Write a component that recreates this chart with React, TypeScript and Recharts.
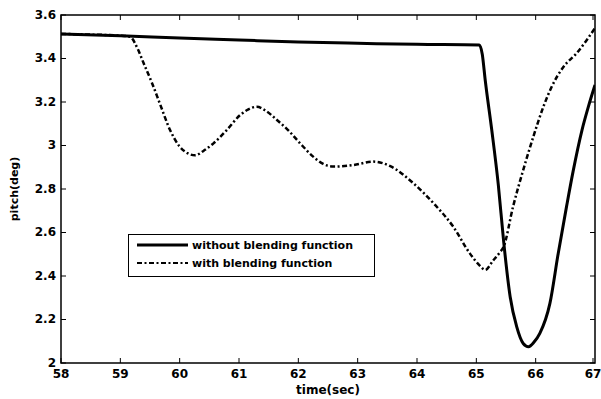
import React from 'react';
import { LineChart, Line, XAxis, YAxis, ReferenceArea, Legend } from 'recharts';

const solidTimes = [58, 59, 60, 61, 62, 63, 64, 65.05, 65.1, 65.15, 65.26, 65.37, 65.46, 65.57, 65.68, 65.79, 65.88, 65.97, 66.07, 66.24, 66.38, 66.52, 66.63, 66.78, 66.89, 67];
const solidValues = [3.513, 3.505, 3.494, 3.485, 3.476, 3.47, 3.465, 3.462, 3.42, 3.3, 3.071, 2.82, 2.56, 2.305, 2.167, 2.09, 2.075, 2.095, 2.136, 2.274, 2.504, 2.719, 2.88, 3.07, 3.18, 3.278];

const blendTimes = [58, 58.5, 59, 59.16, 59.3, 59.39, 59.53, 59.67, 59.84, 60.0, 60.13, 60.26, 60.4, 60.57, 60.79, 61.02, 61.15, 61.3, 61.45, 61.64, 61.83, 62.03, 62.25, 62.42, 62.59, 62.93, 63.26, 63.55, 63.94, 64.28, 64.61, 64.89, 65.05, 65.15, 65.28, 65.4, 65.46, 65.62, 65.79, 65.96, 66.13, 66.27, 66.47, 66.69, 67];
const blendValues = [3.513, 3.51, 3.505, 3.5, 3.44, 3.38, 3.29, 3.19, 3.07, 2.995, 2.965, 2.955, 2.975, 3.01, 3.07, 3.14, 3.165, 3.178, 3.16, 3.117, 3.07, 3.01, 2.949, 2.915, 2.903, 2.91, 2.926, 2.905, 2.826, 2.734, 2.627, 2.504, 2.45, 2.428, 2.47, 2.51, 2.535, 2.72, 2.887, 3.04, 3.178, 3.27, 3.362, 3.424, 3.54];

const xTicks = [58, 59, 60, 61, 62, 63, 64, 65, 66, 67];
const yTicks = [2, 2.2, 2.4, 2.6, 2.8, 3, 3.2, 3.4, 3.6];
const seriesNames = ['without blending function', 'with blending function'];
const xLabel = 'time(sec)';
const yLabel = 'pitch(deg)';

const solidData = solidTimes.map((t, i) => ({ t, v: solidValues[i] }));
const blendData = blendTimes.map((t, i) => ({ t, v: blendValues[i] }));

const FONT = 'DejaVu Sans, sans-serif';
const PLOT_W = 534;
const PLOT_H = 348;
const DASH = '5 2.5 2 2.5';

const XTick = (props: any) => {
  const { x, y, payload } = props;
  return (
    <g>
      <line x1={x} y1={y} x2={x} y2={y - 5} stroke="#000" strokeWidth={1} />
      <line x1={x} y1={y - PLOT_H} x2={x} y2={y - PLOT_H + 5} stroke="#000" strokeWidth={1} />
      <text x={x} y={y + 15} textAnchor="middle" fontFamily={FONT} fontWeight="bold" fontSize={12} fill="#000">
        {payload.value}
      </text>
    </g>
  );
};

const YTick = (props: any) => {
  const { x, y, payload } = props;
  return (
    <g>
      <line x1={x} y1={y} x2={x + 5} y2={y} stroke="#000" strokeWidth={1} />
      <line x1={x + PLOT_W} y1={y} x2={x + PLOT_W - 5} y2={y} stroke="#000" strokeWidth={1} />
      <text x={x - 5} y={y + 3.5} textAnchor="end" fontFamily={FONT} fontWeight="bold" fontSize={12} fill="#000">
        {payload.value}
      </text>
    </g>
  );
};

const LegendBox = () => (
  <div style={{ width: 247, height: 43, boxSizing: 'border-box', border: '1.5px solid #000', background: '#fff' }}>
    <svg width={244} height={40} style={{ display: 'block' }}>
      <line x1={8} y1={10} x2={59} y2={10} stroke="#000" strokeWidth={3} />
      <text x={63} y={14} fontFamily={FONT} fontWeight="bold" fontSize={11} fill="#000">{seriesNames[0]}</text>
      <line x1={8} y1={28} x2={59} y2={28} stroke="#000" strokeWidth={2} strokeDasharray={DASH} />
      <text x={63} y={32} fontFamily={FONT} fontWeight="bold" fontSize={11} fill="#000">{seriesNames[1]}</text>
    </svg>
  </div>
);

export default function App() {
  return (
    <div style={{ position: 'absolute', left: 0, top: 0, width: 601, height: 399, background: '#fff' }}>
      <LineChart width={601} height={399} margin={{ top: 15, right: 6, bottom: 0, left: 0 }}>
        <XAxis
          dataKey="t"
          type="number"
          domain={[58, 67]}
          ticks={xTicks}
          allowDataOverflow
          axisLine={false}
          tickLine={false}
          tickSize={0}
          tickMargin={0}
          height={36}
          tick={<XTick />}
          label={{ value: xLabel, position: 'insideBottom', offset: 5, style: { fontFamily: FONT, fontWeight: 'bold', fontSize: 12, fill: '#000' } }}
        />
        <YAxis
          dataKey="v"
          type="number"
          domain={[2, 3.6]}
          ticks={yTicks}
          allowDataOverflow
          axisLine={false}
          tickLine={false}
          tickSize={0}
          tickMargin={0}
          width={61}
          tick={<YTick />}
          label={{ value: yLabel, angle: -90, position: 'insideLeft', offset: 14, style: { fontFamily: FONT, fontWeight: 'bold', fontSize: 11, fill: '#000', textAnchor: 'middle' } }}
        />
        <ReferenceArea x1={58} x2={67} y1={2} y2={3.6} fill="none" stroke="#000" strokeWidth={1.5} fillOpacity={0} />
        <Legend
          layout="vertical"
          align="center"
          verticalAlign="middle"
          content={<LegendBox />}
          wrapperStyle={{ left: 128, top: 234, width: 247, height: 43 }}
        />
        <Line data={solidData} dataKey="v" name={seriesNames[0]} type="monotone" stroke="#000" strokeWidth={3} dot={false} isAnimationActive={false} />
        <Line data={blendData} dataKey="v" name={seriesNames[1]} type="monotone" stroke="#000" strokeWidth={2.5} strokeDasharray={DASH} dot={false} isAnimationActive={false} />
      </LineChart>
    </div>
  );
}
